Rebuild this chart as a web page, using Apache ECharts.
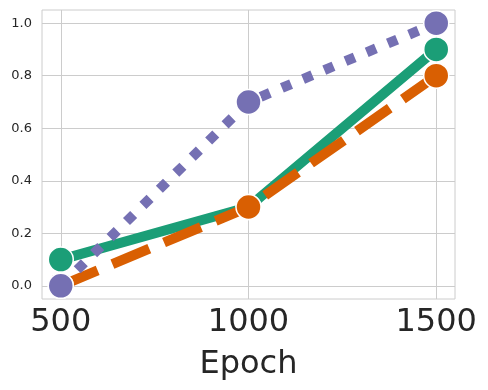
<!DOCTYPE html>
<html>
<head>
<meta charset="utf-8">
<script src="https://cdn.jsdelivr.net/npm/echarts@6/dist/echarts.min.js"></script>
<style>
  html, body { margin: 0; padding: 0; background: #fff; }
  #chart { width: 488px; height: 390px; }
</style>
</head>
<body>
<div id="chart"></div>
<script>
var epochs = [500, 1000, 1500];
var greenVals = [0.1, 0.3, 0.9];
var orangeVals = [0.0, 0.3, 0.8];
var purpleVals = [0.0, 0.7, 1.0];
var yTicks = [0, 0.2, 0.4, 0.6, 0.8, 1.0];

function pairs(xs, ys) {
	return xs.map(function (x, i) { return [x, ys[i]]; });
}

function mkSeries(name, vals, color, dash, z) {
	return {
		name: name,
		type: 'line',
		data: pairs(epochs, vals),
		symbol: 'circle',
		symbolSize: 25,
		z: z,
		lineStyle: { color: color, width: 10, type: dash, cap: 'butt' },
		itemStyle: { color: color, borderColor: '#ffffff', borderWidth: 1.5 },
		emphasis: { disabled: true },
		animation: false
	};
}

var chart = echarts.init(document.getElementById('chart'));
var option = {
	animation: false,
	grid: {
		left: 42, right: 33, top: 10, bottom: 91,
		show: true, borderColor: '#cccccc', borderWidth: 1
	},
	xAxis: {
		type: 'value',
		min: 450, max: 1550,
		name: 'Epoch',
		nameLocation: 'middle',
		nameGap: 50,
		nameTextStyle: { fontFamily: 'DejaVu Sans', fontSize: 32, color: '#262626' },
		axisLine: { show: false },
		axisTick: { show: false, customValues: epochs },
		axisLabel: {
			customValues: epochs,
			fontFamily: 'DejaVu Sans', fontSize: 32, color: '#262626', margin: 8,
			formatter: function (v) { return String(v); }
		},
		splitLine: { show: true, lineStyle: { color: '#cccccc', width: 1 } }
	},
	yAxis: {
		type: 'value',
		min: -0.05, max: 1.05,
		axisLine: { show: false },
		axisTick: { show: false, customValues: yTicks },
		axisLabel: {
			customValues: yTicks,
			fontFamily: 'DejaVu Sans', fontSize: 13, color: '#262626', margin: 10,
			formatter: function (v) { return v.toFixed(1); }
		},
		splitLine: { show: true, lineStyle: { color: '#cccccc', width: 1 } }
	},
	series: [
		mkSeries('green', greenVals, '#1b9e77', 'solid', 2),
		mkSeries('orange', orangeVals, '#d95f02', [40, 16], 3),
		mkSeries('purple', purpleVals, '#7570b3', [10, 13], 4)
	]
};
chart.setOption(option);
window.addEventListener('resize', function () {
	chart.resize();
});
</script>
</body>
</html>
